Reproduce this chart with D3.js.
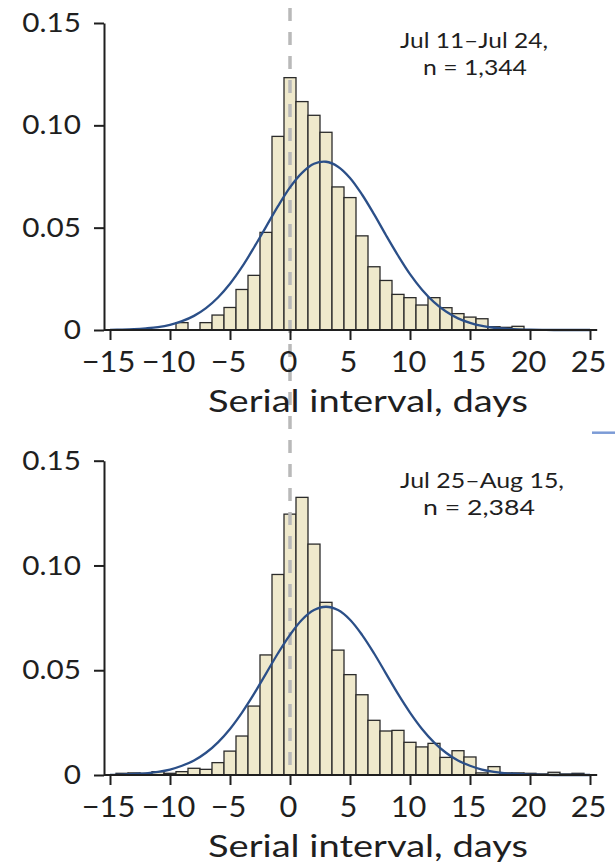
<!DOCTYPE html>
<html>
<head>
<meta charset="utf-8">
<script src="https://cdn.jsdelivr.net/npm/d3@7"></script>
<style>
  html, body { margin: 0; padding: 0; background: #fff; }
  svg { display: block; }
  text { font-family: Lato, "Open Sans", sans-serif; fill: #1f1f1f; }
</style>
</head>
<body>
<svg id="chart" width="615" height="864"></svg>
<script>
// Serial interval bins (days), one bar per day
const days = [-15, -14, -13, -12, -11, -10, -9, -8, -7, -6, -5, -4, -3, -2, -1, 0,
  1, 2, 3, 4, 5, 6, 7, 8, 9, 10, 11, 12, 13, 14, 15, 16, 17, 18, 19, 20, 21, 22, 23, 24, 25];

// Relative frequency, Jul 11–Jul 24
const freqEarly = [0, 0, 0, 0, 0, 0, 0.0036, 0, 0.0036, 0.0073, 0.0110, 0.0198, 0.0267, 0.0477, 0.0946, 0.1233,
  0.1116, 0.1049, 0.0966, 0.0699, 0.0647, 0.0460, 0.0309, 0.0242, 0.0174, 0.0158, 0.0122, 0.0158, 0.0109, 0.0080,
  0.0063, 0.0055, 0.0016, 0.0013, 0.0018, 0, 0, 0, 0, 0, 0];

// Relative frequency, Jul 25–Aug 15
const freqLate = [0, 0.0008, 0.0010, 0.0008, 0.0016, 0.0008, 0.0016, 0.0032, 0.0027, 0.0059, 0.0114, 0.0186, 0.0329, 0.0573, 0.0957, 0.1245,
  0.1325, 0.1102, 0.0824, 0.0596, 0.0479, 0.0383, 0.0261, 0.0210, 0.0213, 0.0156, 0.0134, 0.0151, 0.0084, 0.0116,
  0.0086, 0.0010, 0.0040, 0.0010, 0.0010, 0.0008, 0.0005, 0.0013, 0.0005, 0.0008, 0];

// Fitted density curves, sampled at each day
const fitEarly = [0.0001, 0.0002, 0.0004, 0.0008, 0.0014, 0.0025, 0.0043, 0.0069, 0.0107, 0.0159, 0.0226, 0.0308, 0.0403, 0.0504, 0.0605, 0.0697,
  0.0768, 0.0812, 0.0822, 0.0798, 0.0743, 0.0662, 0.0566, 0.0463, 0.0364, 0.0273, 0.0197, 0.0136, 0.0090, 0.0057,
  0.0035, 0.0020, 0.0011, 0.0006, 0.0003, 0.0002, 0.0001, 0, 0, 0, 0];
const fitLate = [0.0001, 0.0002, 0.0005, 0.0008, 0.0015, 0.0026, 0.0044, 0.0069, 0.0106, 0.0156, 0.0220, 0.0298, 0.0387, 0.0484, 0.0581, 0.0669,
  0.0741, 0.0787, 0.0803, 0.0787, 0.0741, 0.0669, 0.0581, 0.0484, 0.0387, 0.0298, 0.0220, 0.0156, 0.0106, 0.0069,
  0.0044, 0.0026, 0.0015, 0.0008, 0.0005, 0.0002, 0.0001, 0, 0, 0, 0];

const xTicks = [-15, -10, -5, 0, 5, 10, 15, 20, 25];
const yTicks = [0, 0.05, 0.10, 0.15];
const periodLabels = ["Jul 11\u2013Jul 24,", "Jul 25\u2013Aug 15,"];
const countLabels = ["n = 1,344", "n = 2,384"];
const xTitle = "Serial interval, days";

const svg = d3.select("#chart");

const x = d3.scaleLinear().domain([-15, 25]).range([110, 590]);
const axisX = 104;
const ink = "#1f1f1f";

const panels = [
  { freq: freqEarly, fit: fitEarly, top: 23, bottom: 330, period: periodLabels[0], count: countLabels[0],
    labelY: 48, ann: [{ cx: 474, len: 148 }, { cx: 475, len: 104 }] },
  { freq: freqLate, fit: fitLate, top: 460.7, bottom: 775, period: periodLabels[1], count: countLabels[1],
    labelY: 488, ann: [{ cx: 482, len: 164 }, { cx: 479, len: 112 }] }
];

const yFormat = d => d === 0 ? "0" : d3.format(".2f")(d);

// histogram bars
panels.forEach(p => {
  p.y = d3.scaleLinear().domain([0, 0.15]).range([p.bottom, p.top]);
  const bins = days.map((d, i) => ({ day: d, value: p.freq[i] })).filter(b => b.value > 0);
  svg.append("g")
    .selectAll("rect")
    .data(bins)
    .join("rect")
    .attr("x", b => x(b.day - 0.5))
    .attr("width", b => x(b.day + 0.5) - x(b.day - 0.5))
    .attr("y", b => p.y(b.value))
    .attr("height", b => p.y(0) - p.y(b.value))
    .attr("fill", "#efe9cc")
    .attr("stroke", "#2b2b2b")
    .attr("stroke-width", 1.3);
});

// dashed zero line running through both panels
svg.append("line")
  .attr("x1", x(0)).attr("x2", x(0))
  .attr("y1", 8).attr("y2", panels[1].bottom)
  .attr("stroke", "#b9b9b9")
  .attr("stroke-width", 3.5)
  .attr("stroke-dasharray", "13,11");

panels.forEach(p => {
  const y = p.y;
  const g = svg.append("g");

  // fitted curve
  const line = d3.line()
    .x((d, i) => x(days[i]))
    .y(d => y(d))
    .curve(d3.curveCatmullRom);
  g.append("path")
    .attr("d", line(p.fit))
    .attr("fill", "none")
    .attr("stroke", "#2b4f88")
    .attr("stroke-width", 2.3);

  // y axis
  const ya = g.append("g")
    .attr("transform", `translate(${axisX},0)`)
    .call(d3.axisLeft(y).tickValues(yTicks).tickFormat(yFormat).tickSize(10).tickSizeOuter(0).tickPadding(12));
  ya.select(".domain").attr("stroke", ink).attr("stroke-width", 2);
  ya.selectAll(".tick line").attr("stroke", ink).attr("stroke-width", 2);
  ya.selectAll(".tick text")
    .attr("x", 0)
    .attr("transform", "translate(-23,0) scale(1.1,1)")
    .attr("font-size", 27)
    .attr("font-family", "Lato, sans-serif")
    .attr("fill", ink);

  // x axis
  const xa = g.append("g")
    .attr("transform", `translate(0,${p.bottom})`)
    .call(d3.axisBottom(x).tickValues(xTicks).tickSize(10).tickSizeOuter(0));
  xa.select(".domain").remove();
  xa.insert("line", ":first-child")
    .attr("x1", axisX).attr("x2", x(25.6))
    .attr("y1", 0).attr("y2", 0)
    .attr("stroke", ink).attr("stroke-width", 2);
  xa.selectAll(".tick line").attr("stroke", ink).attr("stroke-width", 2);
  xa.selectAll(".tick text")
    .attr("dy", null)
    .attr("y", 41.7)
    .attr("font-size", 28)
    .attr("font-family", "Lato, sans-serif")
    .attr("fill", ink)
    .attr("transform", "translate(-2,0) scale(1.1,1)");

  // axis title
  g.append("text")
    .attr("x", 368)
    .attr("y", p.bottom + 81.7)
    .attr("text-anchor", "middle")
    .attr("font-size", 30)
    .attr("textLength", 320)
    .attr("lengthAdjust", "spacingAndGlyphs")
    .text(xTitle);

  // period annotation
  [p.period, p.count].forEach((t, i) => {
    g.append("text")
      .attr("x", p.ann[i].cx)
      .attr("y", p.labelY + 27 * i)
      .attr("text-anchor", "middle")
      .attr("font-size", 21)
      .attr("textLength", p.ann[i].len)
      .attr("lengthAdjust", "spacingAndGlyphs")
      .text(t);
  });
});

// short blue rule at the right edge between the panels
svg.append("line")
  .attr("x1", 592).attr("x2", 615)
  .attr("y1", 432.7).attr("y2", 432.7)
  .attr("stroke", "#7c9bd6")
  .attr("stroke-width", 2.5);
</script>
</body>
</html>
